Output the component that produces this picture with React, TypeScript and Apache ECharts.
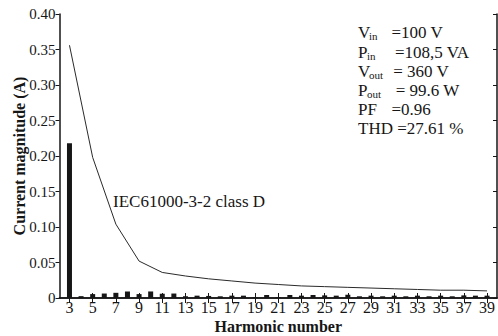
import React, { useEffect, useRef } from "react";
import * as echarts from "echarts";

const harmonics: number[] = [3, 4, 5, 6, 7, 8, 9, 10, 11, 12, 13, 14, 15, 16, 17, 18, 19, 20, 21, 22, 23, 24, 25, 26, 27, 28, 29, 30, 31, 32, 33, 34, 35, 36, 37, 38, 39];
const measuredCurrent: number[] = [0.218, 0.0026, 0.0055, 0.0063, 0.0073, 0.0092, 0.0055, 0.0092, 0.006, 0.0063, 0.0025, 0.0033, 0.0029, 0.0024, 0.0033, 0.0033, 0.0012, 0.0042, 0.0012, 0.0042, 0.0033, 0.0042, 0.0037, 0.0033, 0.0046, 0.0024, 0.0033, 0.0024, 0.0033, 0.0024, 0.0033, 0.0024, 0.0033, 0.0024, 0.0037, 0.0033, 0.0033];
const oddHarmonics: number[] = [3, 5, 7, 9, 11, 13, 15, 17, 19, 21, 23, 25, 27, 29, 31, 33, 35, 37, 39];
const classDLimit: number[] = [0.356, 0.198, 0.104, 0.052, 0.036, 0.031, 0.027, 0.024, 0.021, 0.019, 0.017, 0.016, 0.015, 0.014, 0.013, 0.012, 0.011, 0.011, 0.010];

const FONT = "Liberation Serif, Times New Roman, Times, DejaVu Serif, serif";
const INK = "#161616";

export default function App() {
  const ref = useRef<HTMLDivElement>(null);
  useEffect(() => {
    if (!ref.current) return;
    const chart = echarts.init(ref.current, null, { renderer: "svg" });
    const axisLine = { show: true, lineStyle: { color: INK, width: 1.5 } };
    const txt = (x: number, y: number, text: string, size = 17) => ({
      type: "text",
      x,
      y,
      z: 10,
      style: { text, fontFamily: FONT, fontSize: size, fill: INK, verticalAlign: "middle", align: "left" },
    });
    chart.setOption({
      animation: false,
      backgroundColor: "#ffffff",
      textStyle: { fontFamily: FONT },
      grid: { left: 59.5, right: 1, top: 14, bottom: 38, containLabel: false, outerBoundsMode: "none" },
      xAxis: [
        {
          type: "value",
          position: "bottom",
          min: 2.14,
          max: 39.86,
          axisLine,
          splitLine: { show: false },
          axisTick: { show: true, inside: true, length: 5, customValues: oddHarmonics, lineStyle: { color: INK } },
          axisLabel: { customValues: oddHarmonics, fontFamily: FONT, fontSize: 16, color: INK, margin: 1 },
          name: "Harmonic number",
          nameLocation: "middle",
          nameGap: 20,
          nameMoveOverlap: false,
          nameTextStyle: { fontFamily: FONT, fontSize: 16, fontWeight: "bold", color: INK },
        },
        {
          type: "value",
          position: "top",
          min: 2.14,
          max: 39.86,
          axisLine,
          splitLine: { show: false },
          axisTick: { show: true, inside: true, length: 5, customValues: oddHarmonics, lineStyle: { color: INK } },
          axisLabel: { show: false },
        },
      ],
      yAxis: [
        {
          type: "value",
          position: "left",
          min: 0,
          max: 0.4,
          interval: 0.05,
          axisLine,
          splitLine: { show: false },
          axisTick: { show: true, inside: false, length: 4, lineStyle: { color: INK } },
          axisLabel: {
            fontFamily: FONT,
            fontSize: 15,
            color: INK,
            margin: 4,
            formatter: (v: number) => (v === 0 ? "0" : v.toFixed(2)),
          },
          name: "Current magnitude (A)",
          nameLocation: "middle",
          nameGap: 32,
          nameMoveOverlap: false,
          nameTextStyle: { fontFamily: FONT, fontSize: 16, fontWeight: "bold", color: INK },
        },
        {
          type: "value",
          position: "right",
          min: 0,
          max: 0.4,
          interval: 0.05,
          axisLine,
          splitLine: { show: false },
          axisTick: { show: true, inside: true, length: 4, lineStyle: { color: INK } },
          axisLabel: { show: false },
        },
      ],
      series: [
        {
          type: "bar",
          name: "Measured",
          xAxisIndex: 0,
          yAxisIndex: 0,
          barWidth: 5,
          itemStyle: { color: INK },
          data: harmonics.map((h, i) => [h, measuredCurrent[i]]),
        },
        {
          type: "line",
          name: "IEC61000-3-2 class D",
          xAxisIndex: 0,
          yAxisIndex: 0,
          showSymbol: false,
          symbol: "none",
          lineStyle: { color: "#2a2a2a", width: 1 },
          data: oddHarmonics.map((h, i) => [h, classDLimit[i]]),
        },
      ],
      graphic: [
        txt(113, 201, "IEC61000-3-2 class D", 17),
        txt(358, 32, "V"),
        txt(369, 36, "in", 11),
        txt(391.5, 32, "=100 V"),
        txt(358, 52, "P"),
        txt(367, 56, "in", 11),
        txt(395, 52, "=108,5 VA"),
        txt(358, 71, "V"),
        txt(369, 75, "out", 11),
        txt(389, 71, " = 360 V"),
        txt(358, 90, "P"),
        txt(367, 94, "out", 11),
        txt(391.5, 90, " = 99.6 W"),
        txt(358, 109, "PF"),
        txt(391.5, 109, "=0.96"),
        txt(358, 128, "THD =27.61 %"),
      ],
    });
    return () => chart.dispose();
  }, []);
  return <div ref={ref} style={{ position: "fixed", left: 0, top: 0, width: 498, height: 336 }} />;
}
